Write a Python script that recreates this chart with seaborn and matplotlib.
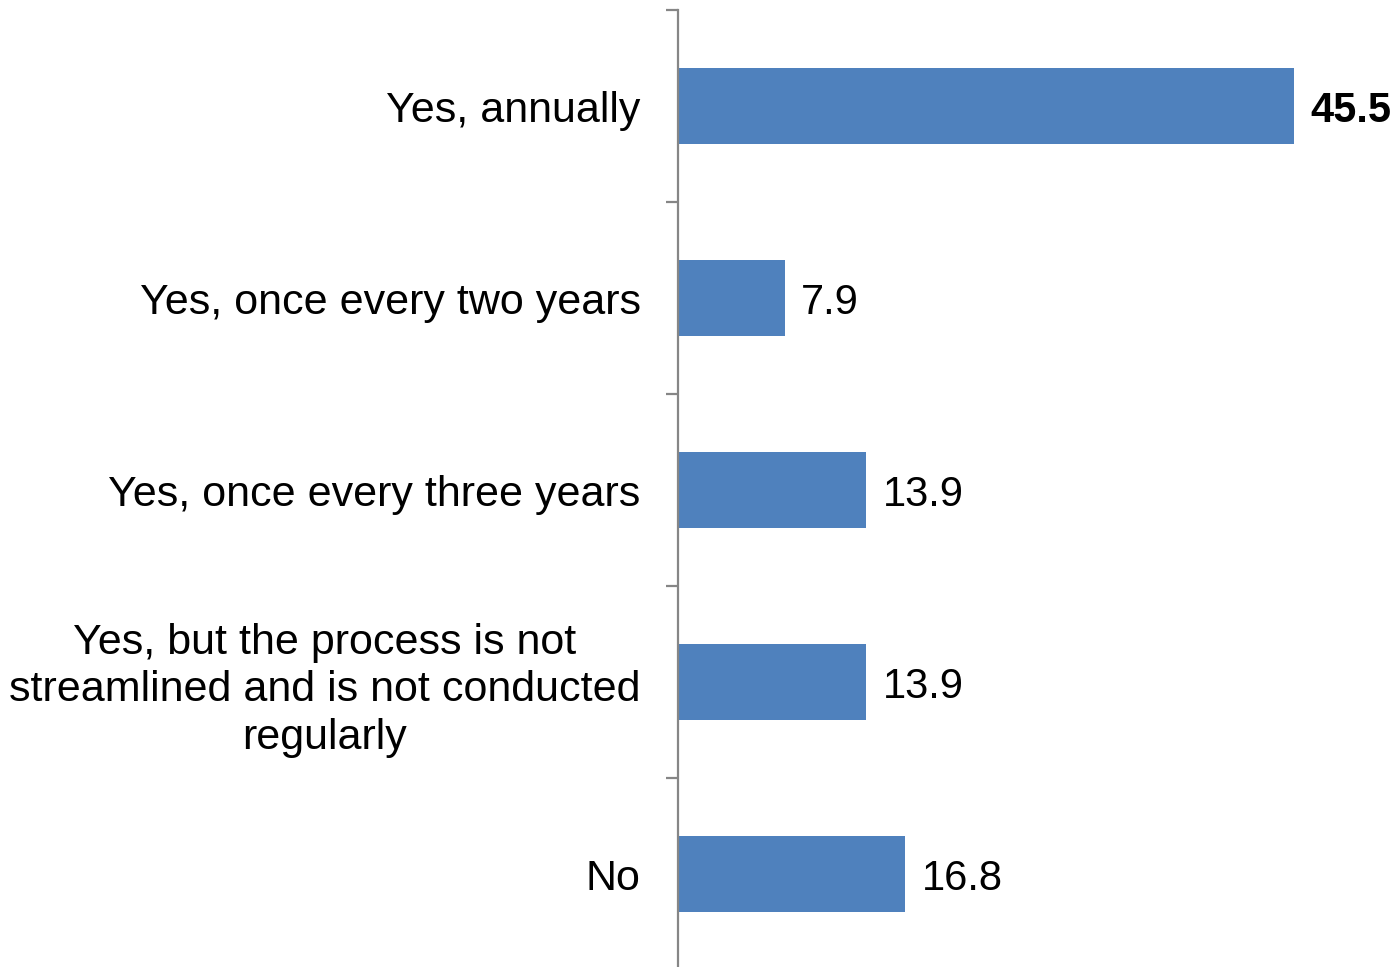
import matplotlib
matplotlib.use("Agg")
import matplotlib.pyplot as plt
import seaborn as sns
import pandas as pd

categories = [
    "Yes, annually",
    "Yes, once every two years",
    "Yes, once every three years",
    "Yes, but the process is not\nstreamlined and is not conducted\nregularly",
    "No",
]
values = [45.5, 7.9, 13.9, 13.9, 16.8]

df = pd.DataFrame({"cat": categories, "val": values})

sns.set_theme(style="white")
plt.rcParams["font.family"] = ["Liberation Sans", "DejaVu Sans"]

W, H = 1399, 967
fig = plt.figure(figsize=(W / 100, H / 100), dpi=100)
left = 678 / W
ax = fig.add_axes([left, 0, 1 - left, 1 - 10 / H])

sns.barplot(data=df, x="val", y="cat", orient="h", color="#4F81BD",
            saturation=1, width=0.4, ax=ax, edgecolor="none")

scale = (1294 - 678) / 45.5
ax.set_xlim(0, (W - 678) / scale)
ax.set_ylim(4.5 - 3 / 192, -0.5)

for sp in ["top", "right", "bottom"]:
    ax.spines[sp].set_visible(False)
ax.spines["left"].set_color("#868686")
ax.spines["left"].set_linewidth(1.6)
ax.set_xticks([])
ax.set_xlabel("")
ax.set_ylabel("")

# tick marks at category boundaries
ax.set_yticks([i - 0.5 for i in range(len(categories))], minor=True)
ax.tick_params(axis="y", which="minor", direction="out", length=9, width=1.6,
               color="#868686", left=True)
ax.tick_params(axis="y", which="major", length=0, pad=27)
ax.set_yticks(range(len(categories)))
ax.set_yticklabels(categories, fontsize=31, color="black", linespacing=1.24)
for lbl in ax.get_yticklabels():
    lbl.set_horizontalalignment("right")
    lbl.set_multialignment("center")

for i, v in enumerate(values):
    ax.text(v + 1.2, i, f"{v}", va="center_baseline", ha="left", fontsize=30,
            fontweight="bold" if i == 0 else "normal", color="black")

fig.savefig("out.png", dpi=100)
